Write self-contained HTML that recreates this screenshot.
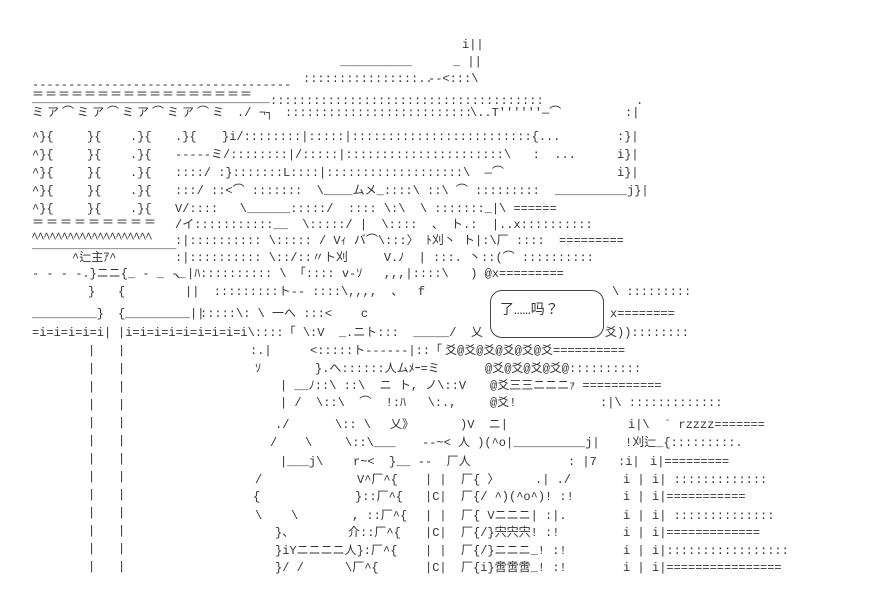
<!DOCTYPE html>
<html><head><meta charset="utf-8"><style>
html,body{margin:0;padding:0;background:#fff;}
#c{position:relative;width:896px;height:604px;overflow:hidden;}
#c span{position:absolute;white-space:pre;font-family:"Liberation Mono","Noto Sans CJK JP",monospace;font-size:12px;line-height:18px;color:#333;}
.b{position:absolute;border:1px solid #444;border-radius:12px;}
</style></head><body><div id="c">
<div class="b" style="left:490px;top:290px;width:112px;height:46px;"></div>
<span style="left:462px;top:36px">i||</span>
<span style="left:340px;top:53px">__________</span><span style="left:453px;top:53px">_ ||</span>
<span style="left:303px;top:70px">::::::::::::::::..</span><span style="left:428px;top:70px">--&lt;:::\</span>
<span style="left:32px;top:76px">------------------------------------</span>
<span style="left:32px;top:86px;letter-spacing:1px;color:#222">＝＝＝＝＝＝＝＝＝＝＝＝＝＝＝＝＝</span>
<span style="left:32px;top:90px">_________________________________</span><span style="left:270px;top:92px">::::::::::::::::::::::::::::::::::::::</span><span style="left:636px;top:92px">.</span>
<span style="left:32px;top:104px;letter-spacing:3px">ミア⌒ミア⌒ミア⌒ミア⌒ミ</span><span style="left:237px;top:104px">./ ¬┐</span><span style="left:285px;top:104px">::::::::::::::::::::::::::</span><span style="left:470px;top:104px">\..T''''''—⌒</span><span style="left:625px;top:104px">:|</span>
<span style="left:32px;top:128px">^}{</span><span style="left:87px;top:128px">}{</span><span style="left:130px;top:128px">.}{</span><span style="left:175px;top:128px">.}{</span><span style="left:222px;top:128px">}i/::::::::|:::::|:::::::::::::::::::::::::{...</span><span style="left:617px;top:128px">:}|</span>
<span style="left:32px;top:146px">^}{</span><span style="left:87px;top:146px">}{</span><span style="left:130px;top:146px">.}{</span><span style="left:175px;top:146px">-----ミ/::::::::|/:::::|::::::::::::::::::::::\   :  ...</span><span style="left:617px;top:146px">i}|</span>
<span style="left:32px;top:164px">^}{</span><span style="left:87px;top:164px">}{</span><span style="left:130px;top:164px">.}{</span><span style="left:175px;top:164px">::::/ :}:::::::L::::|:::::::::::::::::::\  —⌒</span><span style="left:617px;top:164px">i}|</span>
<span style="left:32px;top:182px">^}{</span><span style="left:87px;top:182px">}{</span><span style="left:130px;top:182px">.}{</span><span style="left:175px;top:182px">:::/ ::&lt;⌒ :::::::  \____ムメ_::::\ ::\ ⌒ :::::::::</span><span style="left:555px;top:182px">__________j}|</span>
<span style="left:32px;top:200px">^}{</span><span style="left:87px;top:200px">}{</span><span style="left:130px;top:200px">.}{</span><span style="left:175px;top:200px">V/::::   \______:::::/  :::: \:\  \ :::::::_|\ ======</span>
<span style="left:32px;top:214px;letter-spacing:2px;color:#222">＝＝＝＝＝＝＝＝＝</span><span style="left:175px;top:216px">/イ:::::::::::__  \:::::/ |  \::::  、 ト.:  |..x::::::::::</span>
<span style="left:32px;top:228px">ﾍﾍﾍﾍﾍﾍﾍﾍﾍﾍﾍﾍﾍﾍﾍﾍﾍﾍﾍﾍ</span><span style="left:175px;top:232px">:|:::::::::: \::::: / Vｨ バ⌒\:::〉 ﾄ刈丶 ト|:\厂 ::::  =========</span>
<span style="left:32px;top:236px">____________________</span>
<span style="left:72px;top:249px">^辷主ｱ^</span><span style="left:175px;top:249px">:|:::::::::: \::/::〃ト刈     V.ﾉ  | :::. 丶::(⌒ ::::::::::</span>
<span style="left:32px;top:265px">- - - -.}ニニ{_ - _ -_</span><span style="left:175px;top:265px">、|ﾊ:::::::::: \ 「:::: v-ｿ   ,,,|::::\   ) @x=========</span>
<span style="left:88px;top:283px">}</span><span style="left:118px;top:283px">{</span><span style="left:185px;top:283px">||  :::::::::ト-- ::::\,,,,  、  f</span><span style="left:612px;top:283px">\ :::::::::</span>
<span style="left:32px;top:305px">_________}</span><span style="left:118px;top:305px">{_________||</span><span style="left:200px;top:305px">:::::\: \ 一へ :::&lt;    c</span><span style="left:500px;top:302px;font-size:14px">了……吗？</span><span style="left:610px;top:305px">x========</span>
<span style="left:32px;top:324px">=i=i=i=i=i|</span><span style="left:118px;top:324px">|i=i=i=i=i=i=i=i=i\::::「 \:V  _.ニト:::  _____/  乂</span><span style="left:605px;top:324px">爻))::::::::</span>
<span style="left:250px;top:342px">:.|</span><span style="left:310px;top:342px">&lt;:::::ト------|::「</span><span style="left:445px;top:342px">爻@爻@爻@爻@爻@爻==========</span>
<span style="left:255px;top:360px">ｿ</span><span style="left:315px;top:360px">}.へ::::::人ムﾒｰ=ミ</span><span style="left:485px;top:360px">@爻@爻@爻@爻@::::::::::</span>
<span style="left:280px;top:377px">| __ﾉ::\ ::\  ニ ト, ノ\::V</span><span style="left:490px;top:377px">@爻三三ニニニｧ ===========</span>
<span style="left:280px;top:394px">| /  \::\  ⌒  !:ﾊ   \:.,</span><span style="left:490px;top:394px">@爻!</span><span style="left:600px;top:394px">:|\ :::::::::::::</span>
<span style="left:275px;top:416px">./</span><span style="left:335px;top:416px">\:: \</span><span style="left:390px;top:416px">乂》</span><span style="left:460px;top:416px">)V  ニ|</span><span style="left:628px;top:416px">i|\  ` rzzzz=======</span>
<span style="left:270px;top:434px">/</span><span style="left:305px;top:434px">\</span><span style="left:345px;top:434px">\::\___</span><span style="left:422px;top:434px">--~&lt; 人 )(^o|__________j|</span><span style="left:625px;top:434px">!刈辷_{:::::::::.</span>
<span style="left:280px;top:453px">|___j\</span><span style="left:353px;top:453px">r~&lt;  }__ --  厂人</span><span style="left:568px;top:453px">: |7</span><span style="left:618px;top:453px">:i|</span><span style="left:650px;top:453px">i|=========</span>
<span style="left:255px;top:471px">/</span><span style="left:357px;top:471px">V^厂^{</span><span style="left:425px;top:471px">| |  厂{ 〉</span><span style="left:535px;top:471px">.| ./</span><span style="left:623px;top:471px">i |</span><span style="left:652px;top:471px">i| :::::::::::::</span>
<span style="left:253px;top:488px">{</span><span style="left:355px;top:488px">}::厂^{</span><span style="left:425px;top:488px">|C|  厂{/ ^)(^o^)! :!</span><span style="left:623px;top:488px">i |</span><span style="left:652px;top:488px">i|===========</span>
<span style="left:255px;top:507px">\    \</span><span style="left:352px;top:507px">, ::厂^{</span><span style="left:425px;top:507px">| |  厂{ Vニニニ| :|.</span><span style="left:623px;top:507px">i |</span><span style="left:652px;top:507px">i| ::::::::::::::</span>
<span style="left:275px;top:524px">}、</span><span style="left:348px;top:524px">介::厂^{</span><span style="left:425px;top:524px">|C|  厂{/}宍宍宍! :!</span><span style="left:623px;top:524px">i |</span><span style="left:652px;top:524px">i|=============</span>
<span style="left:275px;top:542px">}iYニニニニ人}:厂^{</span><span style="left:425px;top:542px">| |  厂{/}ニニニ_! :!</span><span style="left:623px;top:542px">i |</span><span style="left:652px;top:542px">i|:::::::::::::::::</span>
<span style="left:275px;top:559px">}/ /</span><span style="left:345px;top:559px">\厂^{</span><span style="left:425px;top:559px">|C|  厂{i}啻啻啻_! :!</span><span style="left:623px;top:559px">i |</span><span style="left:652px;top:559px">i|================</span>
<span style="left:88px;top:342px">|</span><span style="left:118px;top:342px">|</span>
<span style="left:88px;top:360px">|</span><span style="left:118px;top:360px">|</span>
<span style="left:88px;top:378px">|</span><span style="left:118px;top:378px">|</span>
<span style="left:88px;top:396px">|</span><span style="left:118px;top:396px">|</span>
<span style="left:88px;top:414px">|</span><span style="left:118px;top:414px">|</span>
<span style="left:88px;top:432px">|</span><span style="left:118px;top:432px">|</span>
<span style="left:88px;top:450px">|</span><span style="left:118px;top:450px">|</span>
<span style="left:88px;top:468px">|</span><span style="left:118px;top:468px">|</span>
<span style="left:88px;top:486px">|</span><span style="left:118px;top:486px">|</span>
<span style="left:88px;top:504px">|</span><span style="left:118px;top:504px">|</span>
<span style="left:88px;top:522px">|</span><span style="left:118px;top:522px">|</span>
<span style="left:88px;top:540px">|</span><span style="left:118px;top:540px">|</span>
<span style="left:88px;top:558px">|</span><span style="left:118px;top:558px">|</span>
</div></body></html>
